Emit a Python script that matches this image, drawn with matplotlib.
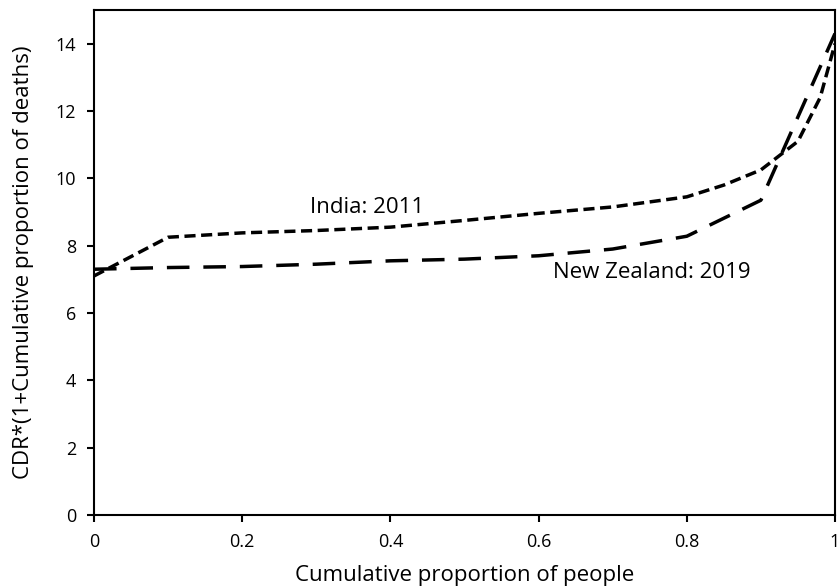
import matplotlib
matplotlib.use("Agg")
import matplotlib.pyplot as plt

# Data
india_x = [0.0, 0.1, 0.2, 0.3, 0.4, 0.5, 0.6, 0.7, 0.8, 0.85, 0.9, 0.95, 0.98, 1.0]
india_y = [7.1, 8.25, 8.38, 8.45, 8.55, 8.75, 8.96, 9.15, 9.45, 9.8, 10.25, 11.1, 12.4, 14.0]

nz_x = [0.0, 0.1, 0.2, 0.3, 0.4, 0.5, 0.6, 0.7, 0.8, 0.9, 1.0]
nz_y = [7.3, 7.35, 7.38, 7.45, 7.55, 7.6, 7.7, 7.9, 8.28, 9.35, 14.3]

x_ticks = [0, 0.2, 0.4, 0.6, 0.8, 1]
x_tick_labels = ["0", "0.2", "0.4", "0.6", "0.8", "1"]
y_ticks = [0, 2, 4, 6, 8, 10, 12, 14]

plt.rcParams["font.family"] = ["Open Sans", "DejaVu Sans"]

fig = plt.figure(figsize=(8.38, 5.86), dpi=100)
ax = fig.add_axes([94 / 838, 1 - 515 / 586, (835 - 94) / 838, (515 - 10) / 586])

ax.plot(india_x, india_y, color="black", linewidth=2.5, dashes=(3.2, 1.6))
ax.plot(nz_x, nz_y, color="black", linewidth=2.5, dashes=(6.5, 4.0))

ax.text(0.368, 9.14, "India: 2011", fontsize=16, ha="center", va="center")
ax.text(0.753, 7.21, "New Zealand: 2019", fontsize=16, ha="center", va="center")

ax.set_xlim(0, 1)
ax.set_ylim(0, 15)
ax.set_xticks(x_ticks)
ax.set_xticklabels(x_tick_labels)
ax.set_yticks(y_ticks)
ax.tick_params(labelsize=13, width=1.5, length=5, direction="out", pad=8)
for spine in ax.spines.values():
    spine.set_linewidth(1.5)
    spine.set_color("black")

ax.set_xlabel("Cumulative proportion of people", fontsize=16, labelpad=10)
ax.set_ylabel("CDR*(1+Cumulative proportion of deaths)", fontsize=16, labelpad=15)

fig.savefig("out.png", dpi=100)
